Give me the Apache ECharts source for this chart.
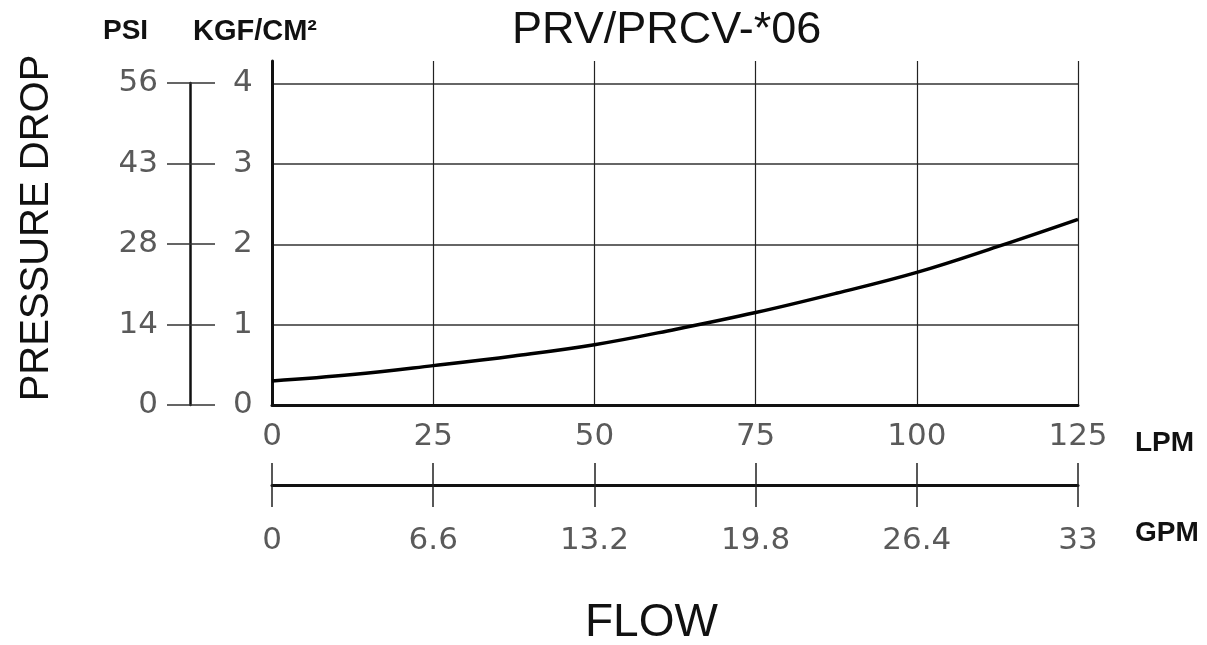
<!DOCTYPE html>
<html>
<head>
<meta charset="utf-8">
<script src="https://cdn.jsdelivr.net/npm/echarts@6/dist/echarts.min.js"></script>
<style>
html,body{margin:0;padding:0;background:#fff;}
#chart{width:1207px;height:645px;}
</style>
</head>
<body>
<div id="chart"></div>
<script>
// Flow (LPM) sample positions and pressure drop (kgf/cm²)
const flowLpm = [0, 12.5, 25, 37.5, 50, 62.5, 75, 87.5, 100, 112.5, 125];
const pressureKgf = [0.30, 0.38, 0.49, 0.61, 0.75, 0.94, 1.15, 1.39, 1.65, 1.97, 2.31];

// Tick labels
const lpmTicks = ['0', '25', '50', '75', '100', '125'];
const gpmTicks = ['0', '6.6', '13.2', '19.8', '26.4', '33'];
const kgfTicks = ['0', '1', '2', '3', '4'];
const psiTicks = ['0', '14', '28', '43', '56'];

const chartTitle = 'PRV/PRCV-*06';
const yTitle = 'PRESSURE DROP';
const xTitle = 'FLOW';

const FONT = 'Liberation Sans, Arial, sans-serif';
const TICKFONT = 'DejaVu Sans, sans-serif';
const labelColor = '#5a5a5a';
const labelSize = 31;

const chart = echarts.init(document.getElementById('chart'));

function idx(v, step) { return Math.round(v / step); }

const option = {
  backgroundColor: '#fff',
  animation: false,
  title: [
    { text: chartTitle, left: 512, top: 8, padding: 0,
      textStyle: { fontFamily: FONT, fontSize: 45, fontWeight: 'normal', color: '#111' } },
    { text: 'PSI', left: 103, top: 17, padding: 0,
      textStyle: { fontFamily: FONT, fontSize: 28, fontWeight: 'bold', color: '#111' } },
    { text: 'KGF/CM²', left: 193, top: 17, padding: 0,
      textStyle: { fontFamily: FONT, fontSize: 29, fontWeight: 'bold', color: '#111' } },
    { text: 'LPM', left: 1135, top: 429, padding: 0,
      textStyle: { fontFamily: FONT, fontSize: 28, fontWeight: 'bold', color: '#111' } },
    { text: 'GPM', left: 1135, top: 519, padding: 0,
      textStyle: { fontFamily: FONT, fontSize: 28, fontWeight: 'bold', color: '#111' } },
    { text: xTitle, left: 585, top: 600, padding: 0,
      textStyle: { fontFamily: FONT, fontSize: 46, fontWeight: 'normal', color: '#111' } }
  ],
  graphic: [
    { type: 'text', x: 37, y: 228, rotation: Math.PI / 2,
      style: { text: yTitle, fill: '#111', font: '40px "Liberation Sans", Arial, sans-serif',
        textAlign: 'center', textVerticalAlign: 'middle' } }
  ],
  grid: [
    { left: 272, right: 129, top: 61, bottom: 240, containLabel: false },
    { left: 190, width: 1, top: 83, bottom: 240, containLabel: false }
  ],
  xAxis: [
    { // LPM
      type: 'value', gridIndex: 0, min: 0, max: 125, interval: 25, position: 'bottom',
      axisLine: { show: true, onZero: false, lineStyle: { color: '#111', width: 3 } },
      axisTick: { show: false },
      axisLabel: { margin: 16, fontFamily: TICKFONT, fontSize: labelSize, color: labelColor,
        formatter: v => lpmTicks[idx(v, 25)] },
      splitLine: { show: true, lineStyle: { color: '#222', width: 1.2 } }
    },
    { // GPM, outward ticks + labels
      type: 'value', gridIndex: 0, min: 0, max: 125, interval: 25, position: 'bottom', offset: 80,
      axisLine: { show: true, onZero: false, lineStyle: { color: '#111', width: 3 } },
      axisTick: { show: true, length: 22, inside: false, lineStyle: { color: '#222', width: 1.5 } },
      axisLabel: { margin: 40, fontFamily: TICKFONT, fontSize: labelSize, color: labelColor,
        formatter: v => gpmTicks[idx(v, 25)] },
      splitLine: { show: false }
    },
    { // GPM inward ticks
      type: 'value', gridIndex: 0, min: 0, max: 125, interval: 25, position: 'bottom', offset: 80,
      axisLine: { show: false, onZero: false },
      axisTick: { show: true, length: 22, inside: true, lineStyle: { color: '#222', width: 1.5 } },
      axisLabel: { show: false },
      splitLine: { show: false }
    },
    { type: 'value', gridIndex: 1, min: 0, max: 1, show: false }
  ],
  yAxis: [
    { // main plot axis
      type: 'value', gridIndex: 0, min: 0, max: 4.28, interval: 1, position: 'left',
      axisLine: { show: true, onZero: false, lineStyle: { color: '#111', width: 3 } },
      axisTick: { show: false },
      axisLabel: { show: false },
      splitLine: { show: true, showMaxLine: false, lineStyle: { color: '#333', width: 1.6 } }
    },
    { // PSI (outward)
      type: 'value', gridIndex: 1, min: 0, max: 4, interval: 1, position: 'left',
      axisLine: { show: true, onZero: false, lineStyle: { color: '#111', width: 2.5 } },
      axisTick: { show: true, length: 23, inside: false, lineStyle: { color: '#333', width: 1.5 } },
      axisLabel: { margin: 32, fontFamily: TICKFONT, fontSize: labelSize, color: labelColor,
        formatter: v => psiTicks[idx(v, 1)] },
      splitLine: { show: false }
    },
    { // KGF/CM² (inward)
      type: 'value', gridIndex: 1, min: 0, max: 4, interval: 1, position: 'left',
      axisLine: { show: false, onZero: false },
      axisTick: { show: true, length: 25, inside: true, lineStyle: { color: '#333', width: 1.5 } },
      axisLabel: { inside: true, margin: 43, fontFamily: TICKFONT, fontSize: labelSize, color: labelColor,
        formatter: v => kgfTicks[idx(v, 1)] },
      splitLine: { show: false }
    }
  ],
  series: [
    {
      type: 'line', xAxisIndex: 0, yAxisIndex: 0,
      data: flowLpm.map((x, i) => [x, pressureKgf[i]]),
      smooth: 0.4, showSymbol: false, symbol: 'none',
      lineStyle: { color: '#000', width: 3.5 }
    }
  ]
};

chart.setOption(option);
</script>
</body>
</html>
